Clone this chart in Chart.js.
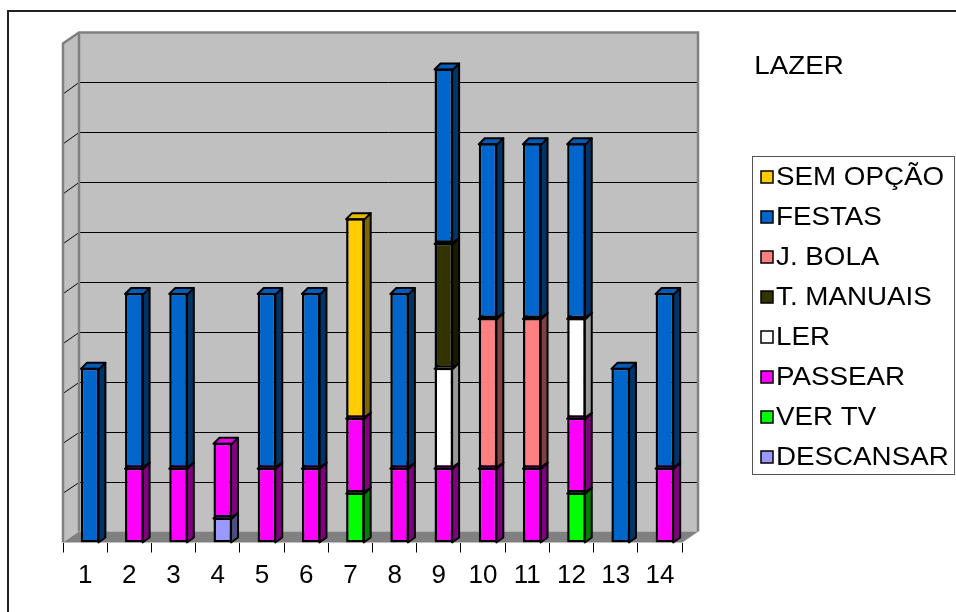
<!DOCTYPE html>
<html>
<head>
<meta charset="utf-8">
<title>LAZER</title>
<script src="https://cdn.jsdelivr.net/npm/chart.js@4.4.1/dist/chart.umd.min.js"></script>
<style>
  html, body { margin: 0; padding: 0; background: #ffffff; }
  #wrap { width: 956px; height: 612px; }
</style>
</head>
<body>
<div id="wrap"><canvas id="chart" width="956" height="612"></canvas></div>
<script>
// Categories along the x axis
const categories = ['1', '2', '3', '4', '5', '6', '7', '8', '9', '10', '11', '12', '13', '14'];

// Stacked series, bottom of the stack first (null = no segment)
const descansar = [null, null, null, 1, null, null, null, null, null, null, null, null, null, null];
const verTv     = [null, null, null, null, null, null, 2, null, null, null, null, 2, null, null];
const passear   = [null, 3, 3, 3, 3, 3, 3, 3, 3, 3, 3, 3, null, 3];
const ler       = [null, null, null, null, null, null, null, null, 4, null, null, 4, null, null];
const tManuais  = [null, null, null, null, null, null, null, null, 5, null, null, null, null, null];
const jBola     = [null, null, null, null, null, null, null, null, null, 6, 6, null, null, null];
const festas    = [7, 7, 7, null, 7, 7, null, 7, 7, 7, 7, 7, 7, 7];
const semOpcao  = [null, null, null, null, null, null, 8, null, null, null, null, null, null, null];

const seriesNames = ['DESCANSAR', 'VER TV', 'PASSEAR', 'LER', 'T. MANUAIS', 'J. BOLA', 'FESTAS', 'SEM OPÇÃO'];
const seriesData = [descansar, verTv, passear, ler, tManuais, jBola, festas, semOpcao];
const frontColors = ['#9999FF', '#00FF00', '#FF00FF', '#FFFFFF', '#333300', '#FF8080', '#0066CC', '#FFCC00'];
const sideColors  = ['#4D4D80', '#008000', '#800080', '#999999', '#1A1A00', '#804040', '#003366', '#806600'];
const topColors   = ['#8A8AE6', '#00E600', '#E600E6', '#E6E6E6', '#2E2E00', '#E67373', '#005CB8', '#E6B800'];

const FONT = "'Liberation Sans', Arial, sans-serif";
const TEXT_STRETCH = 1.11; // panel text is drawn slightly wide
const BAR_SHIFT = 5;       // horizontal offset of the bars inside the box
const DEPTH_X = 6;         // bar extrusion
const DEPTH_Y = -5;
const WALL_DX = 16;        // depth of the plot box
const WALL_DY = -11;

// Plot box: side wall, back wall with gridlines, floor, outer frame
const wallsPlugin = {
  id: 'walls',
  beforeDraw(chart) {
    const ctx = chart.ctx;
    const { left, right, top, bottom } = chart.chartArea;
    const ys = chart.scales.y;
    const bL = left + WALL_DX, bR = right + WALL_DX, bT = top + WALL_DY, bB = bottom + WALL_DY;
    ctx.save();
    // outer frame
    ctx.strokeStyle = '#222222';
    ctx.lineWidth = 2;
    ctx.strokeRect(8, 11, 1000, 700);

    // back wall
    ctx.fillStyle = '#C0C0C0';
    ctx.fillRect(bL, bT, bR - bL, bB - bT);
    // side wall
    ctx.beginPath();
    ctx.moveTo(left, bottom);
    ctx.lineTo(left, top);
    ctx.lineTo(bL, bT);
    ctx.lineTo(bL, bB);
    ctx.closePath();
    ctx.fill();
    // floor
    ctx.fillStyle = '#808080';
    ctx.beginPath();
    ctx.moveTo(left, bottom);
    ctx.lineTo(bL, bB);
    ctx.lineTo(bR, bB);
    ctx.lineTo(right, bottom);
    ctx.closePath();
    ctx.fill();

    // gridlines on back wall and side wall
    ctx.strokeStyle = '#000000';
    ctx.lineWidth = 1;
    for (let v = ys.min + 2; v < ys.max; v += 2) {
      const yf = ys.getPixelForValue(v);
      const yb = Math.round(yf + WALL_DY) + 0.5;
      ctx.beginPath();
      ctx.moveTo(bL, yb);
      ctx.lineTo(bR, yb);
      ctx.stroke();
      ctx.beginPath();
      ctx.moveTo(left + 1, yf);
      ctx.lineTo(bL, yb);
      ctx.stroke();
    }

    // wall edges
    ctx.strokeStyle = '#808080';
    ctx.lineWidth = 2.5;
    ctx.beginPath();
    ctx.moveTo(left, bottom);
    ctx.lineTo(left, top);
    ctx.lineTo(bL, bT);
    ctx.lineTo(bR, bT);
    ctx.lineTo(bR, bB);
    ctx.stroke();
    ctx.beginPath();
    ctx.moveTo(bL, bT);
    ctx.lineTo(bL, bB);
    ctx.stroke();
    ctx.lineWidth = 1;
    ctx.strokeStyle = '#A0A0A0';
    ctx.beginPath();
    ctx.moveTo(right, bottom);
    ctx.lineTo(bR, bB);
    ctx.stroke();
    ctx.restore();
  }
};

// Side and top faces of each stacked segment, drawn before the front faces
const extrudePlugin = {
  id: 'extrude',
  beforeDatasetsDraw(chart) {
    const ctx = chart.ctx;
    ctx.save();
    ctx.translate(BAR_SHIFT, 0);
    ctx.lineWidth = 2;
    ctx.strokeStyle = '#000000';
    ctx.lineJoin = 'round';
    for (let i = 0; i < categories.length; i++) {
      for (let d = 0; d < chart.data.datasets.length; d++) {
        const v = chart.data.datasets[d].data[i];
        if (v === null || v === 0) continue;
        const el = chart.getDatasetMeta(d).data[i];
        const p = el.getProps(['x', 'y', 'base', 'width'], true);
        const l = p.x - p.width / 2, r = p.x + p.width / 2;
        const t = Math.min(p.y, p.base), b = Math.max(p.y, p.base);
        // side face
        ctx.fillStyle = sideColors[d];
        ctx.beginPath();
        ctx.moveTo(r - 1, t);
        ctx.lineTo(r + DEPTH_X, t + DEPTH_Y);
        ctx.lineTo(r + DEPTH_X, b + DEPTH_Y);
        ctx.lineTo(r - 1, b);
        ctx.closePath();
        ctx.fill();
        ctx.stroke();
        // top face
        ctx.fillStyle = topColors[d];
        ctx.beginPath();
        ctx.moveTo(l, t + 1);
        ctx.lineTo(l + DEPTH_X, t + DEPTH_Y);
        ctx.lineTo(r + DEPTH_X, t + DEPTH_Y);
        ctx.lineTo(r, t + 1);
        ctx.closePath();
        ctx.fill();
        ctx.stroke();
      }
    }
    // the translation stays active while the front faces are drawn
  },
  afterDatasetsDraw(chart) {
    chart.ctx.restore();
  }
};

function wideText(ctx, text, x, y) {
  ctx.save();
  ctx.translate(x, y);
  ctx.scale(TEXT_STRETCH, 1);
  ctx.fillText(text, 0, 0);
  ctx.restore();
}

// Title and boxed legend on the right
const sidePanelPlugin = {
  id: 'sidePanel',
  afterDraw(chart) {
    const ctx = chart.ctx;
    ctx.save();
    ctx.fillStyle = '#000000';
    ctx.textBaseline = 'middle';
    ctx.font = '25px ' + FONT;
    ctx.textAlign = 'center';
    wideText(ctx, 'LAZER', 799, 67);

    // legend box
    ctx.strokeStyle = '#555555';
    ctx.lineWidth = 1;
    ctx.strokeRect(752.5, 156.5, 202, 318);
    ctx.textAlign = 'left';
    const n = chart.data.datasets.length;
    for (let k = 0; k < n; k++) {
      const d = n - 1 - k;
      const ds = chart.data.datasets[d];
      const cy = 177 + k * 40;
      ctx.fillStyle = frontColors[d];
      ctx.fillRect(761, cy - 6, 12, 12);
      ctx.lineWidth = 1.5;
      ctx.strokeStyle = '#000000';
      ctx.strokeRect(761, cy - 6, 12, 12);
      ctx.fillStyle = '#000000';
      wideText(ctx, ds.label, 776, cy + 1);
    }
    ctx.restore();
  }
};

const datasets = seriesNames.map((name, i) => ({
  label: name,
  data: seriesData[i],
  backgroundColor: frontColors[i],
  borderColor: '#000000',
  borderWidth: 2.5,
  borderSkipped: false,
  categoryPercentage: 1.0,
  barPercentage: 0.42
}));

new Chart(document.getElementById('chart'), {
  type: 'bar',
  data: { labels: categories, datasets },
  options: {
    responsive: false,
    animation: false,
    devicePixelRatio: 1,
    layout: { padding: { left: 63, right: 274, top: 43.5, bottom: 19.5 } },
    plugins: { legend: { display: false }, tooltip: { enabled: false }, title: { display: false } },
    scales: {
      x: {
        stacked: true,
        grid: { display: true, drawOnChartArea: false, drawTicks: true, tickLength: 10, color: '#000000', lineWidth: 1, offset: true },
        border: { display: false },
        ticks: { color: '#000000', font: { family: FONT, size: 26 }, padding: 8, autoSkip: false, maxRotation: 0 },
        afterFit(axis) { axis.height = 50; }
      },
      y: {
        stacked: true,
        display: false,
        min: 0,
        max: 20
      }
    }
  },
  plugins: [wallsPlugin, extrudePlugin, sidePanelPlugin]
});
</script>
</body>
</html>
